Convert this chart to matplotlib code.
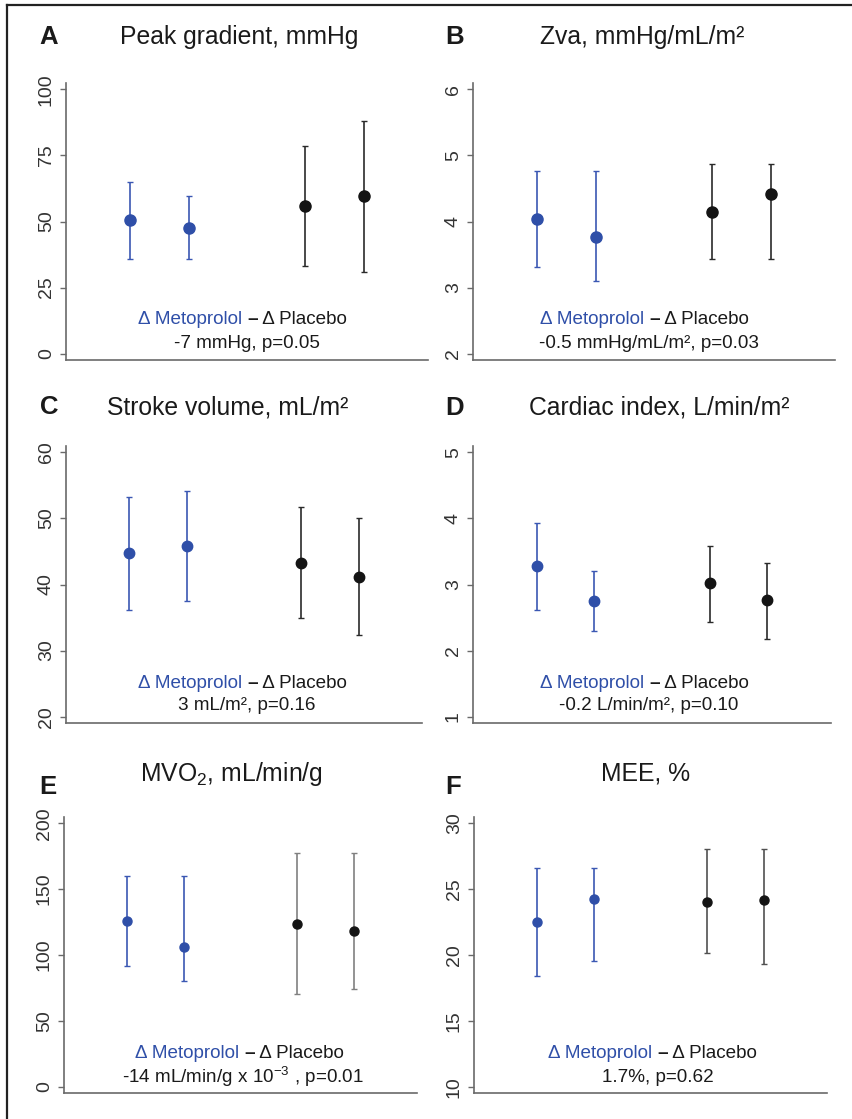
import matplotlib
matplotlib.use('Agg')
import matplotlib.pyplot as plt
from matplotlib.lines import Line2D

plt.rcParams['font.family'] = ['Liberation Sans', 'DejaVu Sans']
plt.rcParams['mathtext.fontset'] = 'custom'
plt.rcParams['mathtext.rm'] = 'Liberation Sans'
plt.rcParams['mathtext.it'] = 'Liberation Sans:italic'
plt.rcParams['mathtext.bf'] = 'Liberation Sans:bold'

W, H = 852, 1119

groups = ['Metoprolol pre', 'Metoprolol post', 'Placebo pre', 'Placebo post']

# A: Peak gradient, mmHg
peak_mean = [50.4, 47.6, 55.8, 59.6]
peak_lo = [35.8, 35.8, 33.0, 31.0]
peak_hi = [64.9, 59.6, 78.6, 88.0]
# B: Zva
zva_mean = [4.04, 3.77, 4.15, 4.41]
zva_lo = [3.31, 3.10, 3.43, 3.43]
zva_hi = [4.77, 4.77, 4.87, 4.87]
# C: Stroke volume
sv_mean = [44.7, 45.9, 43.3, 41.1]
sv_lo = [36.2, 37.5, 34.9, 32.3]
sv_hi = [53.2, 54.2, 51.8, 50.1]
# D: Cardiac index
ci_mean = [3.28, 2.75, 3.02, 2.76]
ci_lo = [2.62, 2.30, 2.44, 2.18]
ci_hi = [3.93, 3.21, 3.59, 3.33]
# E: MVO2
mvo_mean = [126.0, 106.2, 123.8, 118.0]
mvo_lo = [91.6, 80.5, 70.4, 74.0]
mvo_hi = [160.3, 160.3, 177.1, 177.1]
# F: MEE
mee_mean = [22.5, 24.26, 24.06, 24.19]
mee_lo = [18.4, 19.56, 20.14, 19.3]
mee_hi = [26.6, 26.6, 28.04, 28.04]

titles = ['Peak gradient, mmHg', 'Zva, mmHg/mL/m\u00b2', 'Stroke volume, mL/m\u00b2',
          'Cardiac index, L/min/m\u00b2', 'MVO$_2$, mL/min/g', 'MEE, %']
letters = ['A', 'B', 'C', 'D', 'E', 'F']
diff_texts = ['-7 mmHg, p=0.05', '-0.5 mmHg/mL/m\u00b2, p=0.03', '3 mL/m\u00b2, p=0.16',
              '-0.2 L/min/m\u00b2, p=0.10', '-14 mL/min/g x 10$^{-3}$ , p=0.01', '1.7%, p=0.62']
yticks = [[0, 25, 50, 75, 100], [2, 3, 4, 5, 6], [20, 30, 40, 50, 60],
          [1, 2, 3, 4, 5], [0, 50, 100, 150, 200], [10, 15, 20, 25, 30]]

means = [peak_mean, zva_mean, sv_mean, ci_mean, mvo_mean, mee_mean]
lows = [peak_lo, zva_lo, sv_lo, ci_lo, mvo_lo, mee_lo]
highs = [peak_hi, zva_hi, sv_hi, ci_hi, mvo_hi, mee_hi]

# layout (pixels): left, right, bottom, top
boxes = [(66, 428, 360, 83), (473, 835, 360, 83),
         (66, 422, 723, 446), (473, 831, 723, 446),
         (64, 417, 1093, 817), (474, 827, 1093, 817)]
title_pos = [(239, 37), (642, 37), (228, 407), (659, 408), (231, 774), (646, 774)]
letter_pos = [(49, 37), (455, 37), (49, 407), (455, 408), (48, 787), (453, 787)]
line1_pos = [(242, 320), (644, 320), (242, 683), (644, 683), (239, 1054), (652, 1054)]
line2_pos = [(247, 343), (649, 343), (247, 705), (649, 705), (243, 1077), (658, 1077)]

xpos = [0, 1, 3, 4]
blue = '#2f4fa8'
blue_err = '#3b57b3'
black = '#141414'
black_err = ['#2a2a2a', '#2a2a2a', '#2a2a2a', '#2a2a2a', '#808080', '#505050']
msizes = [8, 8, 7.5, 7.5, 6.5, 6.5]

fig = plt.figure(figsize=(W / 100, H / 100), dpi=100)

def fx(x):
    return x / W

def fy(y):
    return 1 - y / H

for i in range(6):
    l, r, b, t = boxes[i]
    ax = fig.add_axes([fx(l), fy(b), (r - l) / W, (b - t) / H])
    m, lo, hi = means[i], lows[i], highs[i]
    for j in range(4):
        col = blue if j < 2 else black
        ecol = blue_err if j < 2 else black_err[i]
        ax.errorbar([xpos[j]], [m[j]], yerr=[[m[j] - lo[j]], [hi[j] - m[j]]],
                    fmt='o', color=col, ecolor=ecol, elinewidth=1.2,
                    capsize=2.5, capthick=1.0, markersize=msizes[i], zorder=3)
    ymin, ymax = yticks[i][0], yticks[i][-1]
    pad = 0.024 * (ymax - ymin)
    ax.set_ylim(ymin - pad, ymax + pad)
    ax.set_xlim(-1.1, 5.1)
    ax.set_yticks(yticks[i])
    ax.set_xticks([])
    for s in ['top', 'right']:
        ax.spines[s].set_visible(False)
    for s in ['left', 'bottom']:
        ax.spines[s].set_color('#6a6a6a')
        ax.spines[s].set_linewidth(1.2)
    ax.tick_params(axis='y', length=4, width=1, color='#6a6a6a', labelsize=14,
                   labelcolor='#333333', labelrotation=90, pad=4)
    for lab in ax.get_yticklabels():
        lab.set_va('center')
    ax.patch.set_alpha(0)

    fig.text(fx(title_pos[i][0]), fy(title_pos[i][1]), titles[i], fontsize=17.8,
             ha='center', va='center', color='#1a1a1a')
    fig.text(fx(letter_pos[i][0]), fy(letter_pos[i][1]), letters[i], fontsize=18.5,
             fontweight='bold', ha='center', va='center', color='#1a1a1a')
    fig.text(fx(line2_pos[i][0]), fy(line2_pos[i][1]), diff_texts[i], fontsize=13.6,
             ha='center', va='center', color='#1a1a1a')

# two-tone first line
renderer = fig.canvas.get_renderer()
parts = [('\u0394 Metoprolol ', blue, 'normal'), ('\u2013', '#1a1a1a', 'bold'),
         (' \u0394 Placebo', '#1a1a1a', 'normal')]
for i in range(6):
    xc, yc = line1_pos[i]
    objs = []
    for s, c, wgt in parts:
        objs.append(fig.text(0, fy(yc), s, color=c, fontsize=13.6, fontweight=wgt,
                             ha='left', va='center'))
    widths = [o.get_window_extent(renderer).width for o in objs]
    start = xc - sum(widths) / 2
    for o, w in zip(objs, widths):
        o.set_x(fx(start))
        start += w

# outer frame lines
fig.add_artist(Line2D([fx(7), fx(7)], [fy(5), 0], color='#222222', lw=1.6))
fig.add_artist(Line2D([fx(7), 1], [fy(5), fy(5)], color='#222222', lw=1.6))

fig.savefig('out.png', dpi=100)
